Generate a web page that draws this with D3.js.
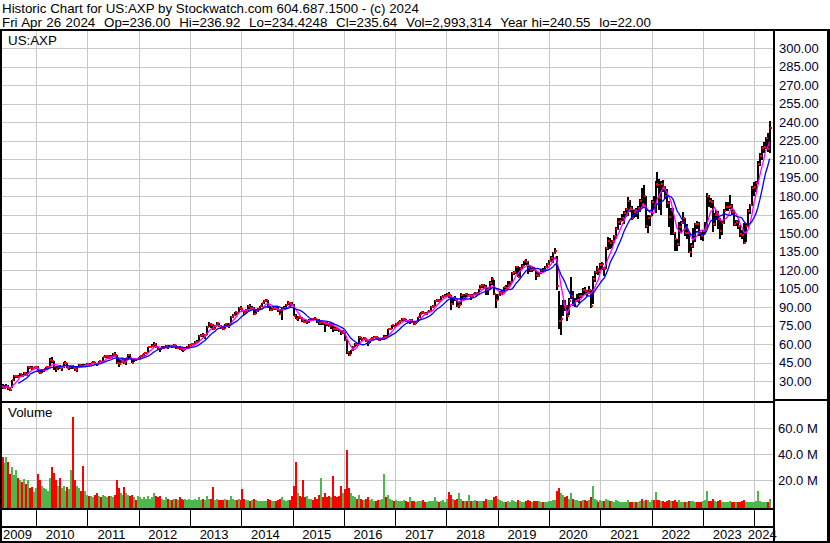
<!DOCTYPE html>
<html>
<head>
<meta charset="utf-8">
<script src="https://cdn.jsdelivr.net/npm/d3@7"></script>
<style>
  body { margin: 0; background: #fff; }
  text { font-family: "Liberation Sans", Arial, sans-serif; }
</style>
</head>
<body>
<div id="chart"></div>
<script>
// Header lines
const headerLines = [
  "Historic Chart for US:AXP by Stockwatch.com 604.687.1500 - (c) 2024",
  "Fri Apr 26 2024  Op=236.00  Hi=236.92  Lo=234.4248  Cl=235.64  Vol=2,993,314  Year hi=240.55  lo=22.00"
];

const priceTicks = [30, 45, 60, 75, 90, 105, 120, 135, 150, 165, 180, 195, 210, 225, 240, 255, 270, 285, 300];
const volumeTicks = [20, 40, 60];
const yearLabels = ["2009", "2010", "2011", "2012", "2013", "2014", "2015", "2016",
                    "2017", "2018", "2019", "2020", "2021", "2022", "2023", "2024"];

// one bar every two weeks, first one ends on this Friday
const firstBarDate = "2009-05-01";

// closing prices, one line per year
const closes = [
  26.0, 24.5, 24.8, 26.2, 24.0, 23.0, 30.5, 33.9, 34.2, 33.5, 35.6, 33.8, 36.2, 34.8, 41.5, 40.8, 40.2, 41.0,
  41.6, 37.6, 36.8, 38.6, 39.5, 41.2, 41.6, 46.8, 46.1, 41.0, 39.9, 41.4, 40.6, 41.2, 44.5, 45.0, 40.6, 41.0, 41.8, 40.4, 38.7, 41.5, 42.9, 42.4, 42.0, 43.3,
  44.0, 43.2, 44.3, 45.4, 44.0, 43.6, 45.9, 45.2, 49.2, 50.1, 50.6, 49.0, 49.3, 52.1, 50.9, 45.0, 44.0, 45.8, 48.0, 44.9, 48.5, 51.2, 48.9, 45.0, 47.9, 47.6,
  48.3, 50.0, 50.9, 52.4, 53.0, 57.3, 57.9, 58.2, 60.3, 57.6, 56.0, 55.7, 56.4, 57.6, 58.6, 57.9, 58.6, 58.2, 59.2, 56.8, 57.1, 56.0, 55.7, 55.4, 56.8, 57.3,
  59.4, 59.8, 60.1, 61.9, 62.0, 66.8, 67.5, 67.0, 67.4, 74.1, 76.6, 75.8, 72.4, 75.0, 77.3, 74.6, 73.1, 72.0, 76.0, 74.8, 76.4, 82.3, 83.4, 85.6, 85.0, 89.3,
  88.8, 87.0, 85.0, 87.5, 91.2, 89.0, 89.6, 84.2, 86.6, 88.4, 90.6, 93.0, 94.7, 95.4, 90.8, 87.4, 88.6, 89.5, 88.6, 87.4, 84.4, 88.4, 89.6, 91.8, 93.6, 93.4,
  92.0, 83.0, 80.7, 81.8, 81.4, 79.6, 78.2, 77.8, 78.6, 79.6, 80.6, 80.4, 80.1, 78.4, 77.0, 77.9, 77.2, 76.6, 76.4, 75.0, 76.0, 72.6, 72.2, 71.8, 70.6, 69.0,
  69.5, 63.4, 53.5, 51.5, 54.8, 57.8, 60.4, 59.2, 65.4, 64.2, 63.8, 64.6, 62.2, 61.0, 63.8, 65.0, 65.8, 65.4, 63.4, 63.8, 64.6, 65.8, 65.6, 72.0, 72.6, 75.2, 74.1,
  76.4, 77.5, 78.6, 80.0, 80.2, 78.4, 78.2, 79.6, 77.6, 76.6, 77.6, 81.6, 84.2, 85.6, 85.4, 84.4, 85.8, 86.8, 90.0, 91.2, 95.0, 95.4, 95.0, 98.2, 99.2, 99.3,
  101.0, 99.6, 92.2, 97.0, 96.4, 91.0, 91.8, 99.6, 97.4, 100.2, 99.0, 100.0, 98.0, 100.4, 101.2, 100.2, 104.6, 107.0, 107.8, 106.0, 103.8, 104.8, 109.8, 112.4, 100.6, 95.4,
  99.4, 101.6, 102.6, 106.0, 105.4, 107.8, 110.6, 117.6, 118.2, 122.6, 114.8, 122.0, 123.4, 127.0, 126.2, 122.0, 119.8, 121.2, 120.4, 115.8, 115.4, 117.8, 120.4, 120.2, 122.4, 125.0,
  127.4, 130.0, 133.6, 135.8, 107.4, 78.4, 80.0, 92.4, 90.6, 83.0, 95.0, 98.6, 92.8, 95.2, 95.8, 99.2, 98.6, 103.8, 103.2, 101.4, 104.0, 91.2, 112.4, 118.4, 121.0, 119.2,
  124.4, 124.6, 120.6, 137.6, 144.0, 141.6, 143.6, 147.4, 153.4, 159.4, 160.0, 162.6, 166.4, 169.6, 176.4, 170.8, 162.4, 167.2, 166.6, 170.8, 176.2, 174.0, 180.0, 155.4, 162.0, 163.6,
  175.6, 172.2, 190.2, 189.0, 178.4, 190.0, 187.4, 180.4, 174.8, 163.0, 168.4, 150.0, 145.6, 141.2, 155.2, 158.4, 162.0, 149.8, 150.2, 134.8, 139.4, 148.4, 157.4, 157.2, 150.0, 147.4,
  151.4, 154.2, 180.0, 176.2, 175.6, 157.6, 165.0, 166.4, 161.4, 151.6, 158.2, 168.2, 171.2, 171.6, 172.4, 167.4, 157.6, 159.0, 155.6, 149.2, 148.4, 141.8, 155.8, 167.8, 172.6, 186.4,
  187.8, 190.6, 206.0, 212.4, 219.0, 220.2, 227.6, 218.4, 235.6
];

const highs = [
  27.5, 27.8, 26.5, 27.2, 26.4, 24.6, 31.0, 34.5, 35.0, 35.2, 36.4, 36.0, 37.7, 37.2, 41.8, 42.2, 41.8, 41.5,
  42.3, 42.0, 38.5, 39.2, 40.0, 41.6, 42.0, 48.4, 49.2, 46.5, 42.1, 42.0, 43.0, 41.6, 45.2, 46.0, 44.8, 41.5, 42.4, 43.0, 42.4, 41.8, 44.0, 43.8, 44.0, 43.9,
  44.6, 44.8, 44.9, 46.0, 45.6, 45.0, 46.4, 46.6, 49.6, 51.0, 51.4, 51.2, 50.8, 52.6, 53.8, 51.0, 48.0, 48.2, 48.5, 48.7, 49.0, 51.8, 51.6, 48.6, 48.5, 48.4,
  48.8, 50.4, 51.5, 52.9, 53.8, 57.8, 58.6, 60.3, 61.4, 60.6, 58.0, 56.6, 58.4, 58.4, 59.4, 59.1, 59.2, 59.0, 60.0, 59.3, 57.8, 58.0, 57.0, 56.2, 57.5, 58.4,
  60.0, 60.3, 60.8, 62.6, 63.0, 67.4, 68.0, 68.6, 68.5, 74.6, 77.6, 77.3, 76.6, 75.6, 78.0, 76.8, 75.2, 73.6, 76.6, 77.2, 77.0, 83.0, 84.2, 86.4, 86.3, 89.8,
  90.6, 89.6, 87.6, 88.2, 92.0, 92.4, 91.0, 89.8, 88.0, 89.0, 91.2, 93.7, 95.5, 96.2, 95.6, 91.2, 89.4, 90.4, 90.2, 89.8, 88.2, 89.0, 90.6, 92.6, 94.6, 94.4,
  94.4, 92.2, 84.0, 82.6, 82.6, 82.0, 80.4, 79.2, 79.4, 80.4, 81.0, 81.2, 81.8, 80.6, 80.6, 78.6, 78.3, 78.2, 77.5, 77.2, 76.8, 76.4, 73.8, 72.8, 72.2, 71.2,
  71.0, 69.8, 64.0, 54.6, 55.4, 58.4, 61.0, 61.2, 66.2, 66.0, 65.0, 66.0, 65.0, 63.0, 64.4, 66.0, 66.2, 66.4, 66.0, 64.6, 65.0, 67.4, 67.0, 72.6, 73.4, 75.8, 75.6,
  77.2, 78.2, 79.2, 81.0, 80.8, 80.2, 79.6, 80.2, 80.0, 78.0, 78.4, 82.0, 84.8, 86.4, 87.0, 86.0, 86.4, 87.4, 90.6, 91.8, 95.8, 96.4, 96.2, 98.8, 100.0, 100.2,
  101.6, 102.4, 100.0, 97.8, 98.6, 96.6, 94.6, 101.2, 100.4, 100.8, 101.4, 101.0, 100.4, 101.0, 102.6, 102.2, 105.0, 107.8, 109.0, 108.4, 108.0, 106.4, 111.0, 114.6, 112.0, 100.4,
  100.4, 103.2, 104.0, 106.6, 108.0, 111.0, 111.4, 118.4, 119.4, 123.2, 123.4, 122.8, 124.6, 127.6, 129.4, 127.0, 123.4, 122.0, 122.6, 119.8, 118.6, 118.4, 121.0, 121.4, 123.0, 125.8,
  128.0, 131.6, 134.6, 138.1, 131.4, 103.0, 92.0, 96.0, 96.0, 92.0, 97.0, 114.0, 103.0, 97.0, 100.4, 101.2, 101.2, 105.6, 106.4, 104.0, 107.0, 103.6, 115.6, 119.2, 123.0, 122.0,
  126.0, 126.4, 122.2, 139.0, 147.2, 146.2, 144.6, 148.4, 154.6, 162.0, 162.4, 165.8, 167.6, 170.6, 179.6, 177.2, 172.4, 169.4, 170.0, 172.2, 177.6, 187.0, 189.0, 180.4, 164.6, 164.8,
  177.2, 180.0, 192.4, 199.6, 194.0, 192.4, 193.0, 188.4, 186.0, 176.4, 170.0, 170.6, 151.0, 145.0, 159.0, 159.6, 167.4, 162.4, 157.6, 150.0, 141.6, 154.4, 158.6, 159.6, 159.4, 151.2,
  152.6, 159.4, 182.2, 181.2, 178.6, 176.6, 166.0, 168.4, 167.6, 162.0, 159.6, 169.4, 175.0, 175.2, 181.2, 174.0, 168.4, 161.0, 160.6, 157.0, 152.8, 158.4, 157.4, 169.2, 174.0, 188.0,
  191.2, 192.0, 208.2, 214.8, 220.8, 224.2, 228.4, 231.6, 240.6
];

const lows = [
  22.5, 23.6, 23.5, 24.2, 23.1, 22.0, 24.0, 30.2, 32.1, 32.5, 33.6, 32.9, 34.0, 34.0, 36.0, 39.6, 39.0, 39.8,
  40.0, 37.1, 36.0, 36.5, 37.6, 38.9, 40.6, 41.5, 45.0, 39.0, 37.6, 38.9, 40.1, 38.5, 40.8, 43.6, 40.2, 39.0, 40.0, 40.0, 38.0, 37.5, 41.2, 41.0, 41.4, 41.8,
  42.8, 42.6, 42.7, 43.8, 43.2, 42.5, 43.4, 44.5, 45.0, 48.8, 49.0, 48.2, 48.3, 49.5, 50.0, 44.2, 41.3, 44.6, 44.5, 44.2, 43.0, 47.1, 47.5, 44.3, 45.5, 46.5,
  46.8, 47.8, 49.5, 50.6, 51.8, 53.0, 56.6, 57.4, 57.6, 56.8, 54.9, 53.2, 55.6, 56.2, 56.9, 56.3, 57.3, 57.0, 57.6, 56.1, 55.8, 55.3, 54.6, 53.8, 55.1, 56.2,
  57.5, 58.4, 58.9, 59.8, 60.6, 62.4, 65.8, 66.0, 64.3, 67.5, 73.8, 73.2, 71.3, 72.0, 74.6, 73.7, 72.4, 71.2, 72.3, 74.0, 73.0, 76.6, 81.0, 83.0, 83.3, 85.4,
  87.9, 85.6, 83.8, 84.0, 87.0, 88.0, 87.3, 83.4, 84.0, 86.0, 87.9, 90.2, 92.6, 93.8, 89.6, 86.8, 86.6, 88.0, 87.6, 86.4, 83.6, 79.9, 87.6, 89.3, 91.5, 89.6,
  90.8, 82.5, 80.1, 78.6, 80.2, 78.2, 77.6, 76.8, 76.5, 77.2, 78.8, 79.4, 79.2, 77.4, 75.8, 75.3, 75.6, 70.0, 74.6, 73.8, 72.0, 69.8, 70.8, 70.6, 69.6, 67.6,
  68.4, 62.6, 52.1, 50.3, 51.6, 54.2, 57.6, 58.4, 59.8, 63.4, 62.6, 63.4, 61.6, 58.2, 60.6, 63.0, 64.6, 64.8, 63.0, 62.8, 63.6, 63.0, 64.8, 66.4, 71.0, 72.4, 73.6,
  74.6, 75.6, 76.8, 78.4, 79.0, 77.6, 77.2, 76.3, 76.8, 75.6, 76.2, 77.6, 81.4, 83.8, 84.6, 83.6, 83.8, 84.8, 86.6, 89.6, 90.6, 94.0, 93.8, 94.8, 97.4, 98.4,
  98.4, 97.6, 87.5, 91.4, 94.6, 90.0, 89.0, 91.6, 96.6, 97.0, 97.8, 98.2, 96.0, 97.8, 99.4, 99.0, 99.8, 104.0, 105.8, 105.0, 100.0, 99.8, 104.2, 107.8, 99.6, 89.1,
  95.8, 98.6, 100.6, 102.4, 104.6, 106.0, 107.6, 110.2, 116.4, 116.6, 114.0, 114.6, 121.0, 123.0, 124.4, 116.8, 118.4, 118.2, 119.0, 112.2, 114.4, 114.6, 116.8, 118.6, 118.6, 122.0,
  124.2, 126.8, 126.0, 133.0, 104.0, 72.0, 67.0, 82.4, 87.0, 79.0, 83.6, 96.4, 91.0, 90.2, 94.2, 93.4, 97.0, 98.8, 99.4, 98.6, 101.0, 89.1, 92.4, 110.6, 117.0, 116.2,
  118.0, 120.4, 115.6, 121.0, 136.0, 137.4, 137.8, 141.6, 145.6, 152.4, 156.2, 159.6, 157.2, 163.2, 164.0, 166.8, 160.4, 162.0, 163.4, 161.6, 167.0, 171.6, 172.8, 154.0, 150.0, 155.6,
  164.0, 168.4, 166.6, 186.4, 168.4, 165.0, 183.6, 177.4, 170.4, 154.6, 148.6, 148.8, 135.2, 135.8, 139.2, 150.8, 157.6, 148.0, 145.0, 134.2, 130.7, 138.0, 143.0, 153.6, 147.4, 144.4,
  144.0, 149.6, 153.0, 171.4, 170.0, 150.6, 155.4, 160.4, 153.4, 145.0, 148.6, 157.6, 167.6, 168.2, 169.4, 165.0, 155.6, 155.4, 153.0, 146.8, 145.4, 140.9, 142.6, 154.8, 165.6, 172.0,
  180.4, 183.6, 189.6, 204.8, 209.6, 215.2, 218.4, 216.2, 215.0
];

// average daily volume, millions of shares
const volumes = [
  48, 38, 33, 38, 34, 25, 30, 24, 28, 22, 20, 19, 21, 17, 20, 14, 15, 11,
  14, 25, 20, 16, 14, 13, 12, 22, 30, 26, 20, 16, 22, 14, 16, 12, 15, 13, 28, 69, 20, 16, 14, 12, 31, 12,
  9, 8, 8, 7, 9, 10, 8, 7, 9, 8, 7, 8, 8, 7, 9, 20, 14, 10, 9, 15, 10, 9, 8, 9, 7, 5,
  8, 7, 6, 7, 6, 8, 6, 7, 10, 8, 7, 8, 6, 5, 7, 6, 5, 5, 6, 6, 5, 7, 6, 5, 6, 5,
  6, 5, 5, 6, 5, 7, 5, 6, 5, 8, 6, 6, 15, 5, 6, 5, 5, 5, 6, 5, 5, 8, 6, 5, 5, 6,
  5, 13, 6, 5, 5, 4, 5, 6, 5, 4, 4, 4, 4, 4, 6, 5, 4, 4, 4, 5, 6, 7, 5, 4, 5, 5,
  8, 16, 34, 10, 8, 7, 20, 7, 8, 6, 6, 5, 7, 6, 9, 22, 7, 10, 7, 8, 7, 23, 8, 7, 8, 16,
  10, 13, 43, 14, 10, 8, 7, 6, 9, 6, 5, 5, 6, 7, 5, 6, 4, 4, 5, 5, 6, 25, 7, 9, 6, 5, 4,
  5, 4, 4, 4, 5, 4, 3, 7, 4, 4, 3, 4, 4, 4, 5, 3, 3, 4, 4, 4, 7, 4, 3, 4, 5, 3,
  6, 11, 9, 6, 5, 6, 10, 6, 4, 4, 4, 9, 4, 4, 5, 4, 4, 4, 4, 4, 6, 5, 5, 5, 7, 8,
  6, 5, 4, 3, 3, 4, 3, 5, 4, 3, 5, 4, 3, 3, 4, 5, 4, 3, 4, 4, 4, 4, 3, 3, 3, 3,
  4, 4, 5, 5, 12, 14, 10, 9, 7, 8, 6, 10, 6, 5, 5, 4, 4, 5, 5, 4, 5, 7, 16, 6, 5, 3,
  5, 4, 4, 6, 5, 4, 4, 3, 5, 4, 3, 3, 3, 3, 5, 3, 3, 3, 3, 3, 4, 6, 4, 5, 5, 3,
  5, 5, 11, 5, 5, 4, 4, 3, 4, 5, 4, 4, 5, 3, 5, 3, 3, 3, 3, 4, 4, 4, 3, 3, 3, 3,
  4, 5, 12, 4, 4, 6, 4, 3, 4, 5, 3, 3, 3, 3, 4, 3, 3, 3, 3, 3, 4, 5, 3, 3, 3, 3,
  3, 4, 12, 4, 3, 3, 3, 3, 6
];

// ---- layout ----
const width = 830, height = 543;
const plotLeft = 2, plotRight = 773;
const priceTop = 31, priceBottom = 401;
const volTop = 403, volBottom = 508;
const gridColor = "#c8c8c8";
const axisText = "#000030";

const svg = d3.select("#chart")
  .append("svg")
  .attr("width", width)
  .attr("height", height)
  .style("display", "block");

svg.append("rect").attr("width", width).attr("height", height).attr("fill", "#fff");

// scales
const x = d3.scaleTime()
  .domain([new Date(2010, 0, 1), new Date(2024, 0, 1)])
  .range([36, 754.3]);

const y = d3.scaleLinear()
  .domain([30, 300])
  .range([381, 48.3]);

const yv = d3.scaleLinear()
  .domain([0, 60])
  .range([506.3, 428.3]);

const n = Math.min(closes.length, highs.length, lows.length, volumes.length);
const start = d3.timeParse("%Y-%m-%d")(firstBarDate);
const bars = d3.range(n).map(i => ({
  date: d3.timeDay.offset(start, 14 * i),
  close: closes[i],
  high: highs[i],
  low: lows[i],
  vol: volumes[i],
  up: i === 0 || closes[i] >= closes[i - 1]
}));

// moving averages: 10 week (5 bars) and 20 week (10 bars)
function movingAvg(len, minLen) {
  return bars.map((d, i) => {
    if (i + 1 < minLen) return null;
    const w = closes.slice(Math.max(0, i - len + 1), i + 1);
    return { date: d.date, value: d3.mean(w) };
  }).filter(d => d);
}
const maShort = movingAvg(5, 1);
const maLong = movingAvg(10, 10);

// year boundaries
const yearStarts = yearLabels.slice(1).map(yr => new Date(+yr, 0, 1));
const edges = [plotLeft].concat(yearStarts.map(d => x(d)), [plotRight]);

// ---- grid ----
const grid = svg.append("g").attr("shape-rendering", "crispEdges").attr("stroke", gridColor);

grid.selectAll(".hp").data(priceTicks).enter().append("line")
  .attr("x1", plotLeft).attr("x2", plotRight)
  .attr("y1", d => Math.round(y(d)) + 0.5).attr("y2", d => Math.round(y(d)) + 0.5);

grid.selectAll(".hv").data(volumeTicks).enter().append("line")
  .attr("x1", plotLeft).attr("x2", plotRight)
  .attr("y1", d => Math.round(yv(d)) + 0.5).attr("y2", d => Math.round(yv(d)) + 0.5);

yearStarts.forEach(d => {
  const xx = Math.round(x(d)) + 0.5;
  grid.append("line").attr("x1", xx).attr("x2", xx).attr("y1", priceTop).attr("y2", priceBottom);
  grid.append("line").attr("x1", xx).attr("x2", xx).attr("y1", volTop).attr("y2", volBottom);
});

// ---- price bars ----
const barG = svg.append("g").attr("shape-rendering", "crispEdges");

barG.selectAll(".hl").data(bars).enter().append("rect")
  .attr("x", d => Math.round(x(d.date)) - 2)
  .attr("width", 2)
  .attr("y", d => y(d.high))
  .attr("height", d => Math.max(1, y(d.low) - y(d.high)))
  .attr("fill", "#000");

barG.selectAll(".cl").data(bars).enter().append("rect")
  .attr("x", d => Math.round(x(d.date)) - 1)
  .attr("width", 2)
  .attr("y", d => y(d.close) - 1)
  .attr("height", 2)
  .attr("fill", "#ff0000");

// moving average lines
const maLine = d3.line()
  .x(d => x(d.date) - 1)
  .y(d => y(d.value));

svg.append("path")
  .datum(maShort)
  .attr("d", maLine)
  .attr("fill", "none")
  .attr("stroke", "#ff00ff")
  .attr("stroke-width", 1.3);

svg.append("path")
  .datum(maLong)
  .attr("d", maLine)
  .attr("fill", "none")
  .attr("stroke", "#0000ff")
  .attr("stroke-width", 1.3);

// ---- volume bars ----
svg.append("g").attr("shape-rendering", "crispEdges")
  .selectAll("rect").data(bars).enter().append("rect")
  .attr("x", d => Math.round(x(d.date)) - 2)
  .attr("width", 2)
  .attr("y", d => yv(d.vol))
  .attr("height", d => volBottom - yv(d.vol))
  .attr("fill", d => d.up ? "#4cb84c" : "#ff0000");

// ---- frame ----
const frame = svg.append("g").attr("fill", "#000").attr("shape-rendering", "crispEdges");
frame.append("rect").attr("x", 0).attr("y", 29).attr("width", width).attr("height", 2);
frame.append("rect").attr("x", 0).attr("y", 29).attr("width", 2).attr("height", height - 29);
frame.append("rect").attr("x", plotRight).attr("y", 29).attr("width", 2).attr("height", height - 29);
frame.append("rect").attr("x", 827).attr("y", 29).attr("width", 3).attr("height", height - 29);
frame.append("rect").attr("x", 0).attr("y", 541).attr("width", width).attr("height", 2);
frame.append("rect").attr("x", 0).attr("y", priceBottom).attr("width", plotRight + 2).attr("height", 2);
frame.append("rect").attr("x", plotRight).attr("y", 399).attr("width", width - plotRight).attr("height", 2);
frame.append("rect").attr("x", 0).attr("y", volBottom).attr("width", plotRight).attr("height", 2);
frame.append("rect").attr("x", 0).attr("y", 526).attr("width", plotRight).attr("height", 2);
yearStarts.forEach(d => {
  frame.append("rect").attr("x", Math.round(x(d))).attr("y", 510).attr("width", 1).attr("height", 16);
});

// ---- text ----
svg.selectAll(".hdr").data(headerLines).enter().append("text")
  .attr("x", 2)
  .attr("y", (d, i) => 13 + i * 14)
  .attr("font-size", 13.33)
  .style("white-space", "pre")
  .style("word-spacing", (d, i) => i === 1 ? "0.7px" : null)
  .text(d => d);

svg.append("text").attr("x", 8).attr("y", 45).attr("font-size", 13.33).text("US:AXP");
svg.append("text").attr("x", 8).attr("y", 417).attr("font-size", 13.33).text("Volume");

svg.selectAll(".pt").data(priceTicks).enter().append("text")
  .attr("x", 779)
  .attr("y", d => y(d))
  .attr("dy", "0.36em")
  .attr("font-size", 13)
  .attr("fill", axisText)
  .text(d => d.toFixed(2));

svg.selectAll(".vt").data(volumeTicks).enter().append("text")
  .attr("x", 778)
  .attr("y", d => yv(d))
  .attr("dy", "0.36em")
  .attr("font-size", 13)
  .attr("fill", axisText)
  .text(d => d.toFixed(1) + " M");

svg.selectAll(".yr").data(yearLabels).enter().append("text")
  .attr("x", (d, i) => (edges[i] + edges[i + 1]) / 2 - 1.5)
  .attr("y", 539)
  .attr("text-anchor", "middle")
  .attr("font-size", 13)
  .text(d => d);
</script>
</body>
</html>
